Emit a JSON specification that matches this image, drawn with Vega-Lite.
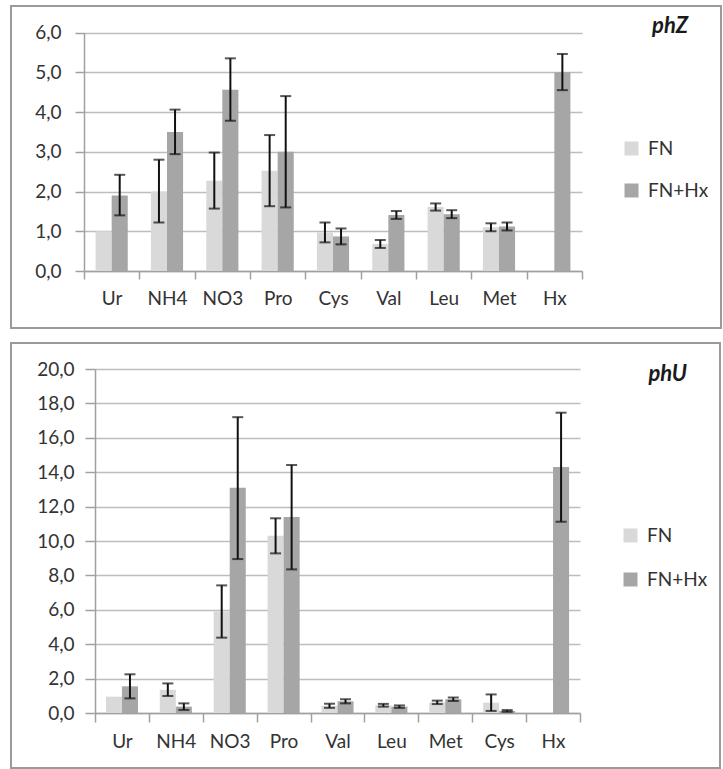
{
  "$schema": "https://vega.github.io/schema/vega-lite/v6.json",
  "padding": {"left": 10, "top": 5, "right": 0, "bottom": 0},
  "background": "white",
  "spacing": 15,
  "bounds": "flush",
  "datasets": {
    "phZ": [
      {"cat": "Ur", "series": "FN", "v": 1.0, "lo": null, "hi": null},
      {"cat": "Ur", "series": "FN+Hx", "v": 1.9, "lo": 1.40, "hi": 2.42},
      {"cat": "NH4", "series": "FN", "v": 2.0, "lo": 1.22, "hi": 2.80},
      {"cat": "NH4", "series": "FN+Hx", "v": 3.5, "lo": 2.94, "hi": 4.06},
      {"cat": "NO3", "series": "FN", "v": 2.27, "lo": 1.57, "hi": 2.98},
      {"cat": "NO3", "series": "FN+Hx", "v": 4.56, "lo": 3.78, "hi": 5.35},
      {"cat": "Pro", "series": "FN", "v": 2.52, "lo": 1.63, "hi": 3.42},
      {"cat": "Pro", "series": "FN+Hx", "v": 3.0, "lo": 1.60, "hi": 4.40},
      {"cat": "Cys", "series": "FN", "v": 0.97, "lo": 0.72, "hi": 1.22},
      {"cat": "Cys", "series": "FN+Hx", "v": 0.87, "lo": 0.67, "hi": 1.07},
      {"cat": "Val", "series": "FN", "v": 0.68, "lo": 0.58, "hi": 0.78},
      {"cat": "Val", "series": "FN+Hx", "v": 1.41, "lo": 1.31, "hi": 1.51},
      {"cat": "Leu", "series": "FN", "v": 1.61, "lo": 1.52, "hi": 1.70},
      {"cat": "Leu", "series": "FN+Hx", "v": 1.43, "lo": 1.33, "hi": 1.53},
      {"cat": "Met", "series": "FN", "v": 1.10, "lo": 1.00, "hi": 1.20},
      {"cat": "Met", "series": "FN+Hx", "v": 1.12, "lo": 1.02, "hi": 1.22},
      {"cat": "Hx", "series": "FN+Hx", "v": 5.0, "lo": 4.55, "hi": 5.46}
    ],
    "phU": [
      {"cat": "Ur", "series": "FN", "v": 0.95, "lo": null, "hi": null},
      {"cat": "Ur", "series": "FN+Hx", "v": 1.55, "lo": 0.85, "hi": 2.25},
      {"cat": "NH4", "series": "FN", "v": 1.35, "lo": 0.99, "hi": 1.72},
      {"cat": "NH4", "series": "FN+Hx", "v": 0.37, "lo": 0.18, "hi": 0.56},
      {"cat": "NO3", "series": "FN", "v": 5.9, "lo": 4.38, "hi": 7.42},
      {"cat": "NO3", "series": "FN+Hx", "v": 13.1, "lo": 8.95, "hi": 17.2},
      {"cat": "Pro", "series": "FN", "v": 10.3, "lo": 9.28, "hi": 11.32},
      {"cat": "Pro", "series": "FN+Hx", "v": 11.4, "lo": 8.35, "hi": 14.42},
      {"cat": "Val", "series": "FN", "v": 0.42, "lo": 0.30, "hi": 0.54},
      {"cat": "Val", "series": "FN+Hx", "v": 0.68, "lo": 0.56, "hi": 0.80},
      {"cat": "Leu", "series": "FN", "v": 0.45, "lo": 0.37, "hi": 0.53},
      {"cat": "Leu", "series": "FN+Hx", "v": 0.37, "lo": 0.30, "hi": 0.44},
      {"cat": "Met", "series": "FN", "v": 0.62, "lo": 0.52, "hi": 0.72},
      {"cat": "Met", "series": "FN+Hx", "v": 0.80, "lo": 0.70, "hi": 0.90},
      {"cat": "Cys", "series": "FN", "v": 0.6, "lo": 0.12, "hi": 1.08},
      {"cat": "Cys", "series": "FN+Hx", "v": 0.12, "lo": 0.07, "hi": 0.17},
      {"cat": "Hx", "series": "FN+Hx", "v": 14.3, "lo": 11.12, "hi": 17.46}
    ]
  },
  "vconcat": [
    {
      "data": {"name": "phZ"},
      "width": 710,
      "height": 322,
      "title": {"text": "phZ", "anchor": "end", "frame": "group", "orient": "top", "offset": 0, "dx": -33, "dy": 42, "baseline": "middle", "fontSize": 22, "fontStyle": "italic", "fontWeight": "bold", "font": "Lato", "color": "#1a1a1a"},
      "encoding": {
        "x": {
          "field": "cat", "type": "nominal",
          "sort": ["Ur", "NH4", "NO3", "Pro", "Cys", "Val", "Leu", "Met", "Hx"],
          "scale": {"range": [73, 571], "paddingInner": 0, "paddingOuter": 0},
          "axis": {"title": null, "offset": -57, "tickBand": "extent", "tickSize": 8, "labelPadding": 10, "labelAngle": 0, "grid": false}
        },
        "xOffset": {"field": "series", "type": "nominal", "scale": {"paddingOuter": 0.72, "paddingInner": 0}}
      },
      "layer": [
        {
          "mark": {"type": "bar"},
          "encoding": {
            "y": {
              "field": "v", "type": "quantitative", "title": null,
              "scale": {"domain": [0, 6], "range": [265, 26.5], "nice": false},
              "axis": {"values": [0, 1, 2, 3, 4, 5, 6], "offset": -73, "tickSize": 9, "labelPadding": 14, "grid": true, "labelExpr": "replace(format(datum.value, '.1f'), '.', ',')"}
            },
            "color": {
              "field": "series", "type": "nominal",
              "scale": {"domain": ["FN", "FN+Hx"], "range": ["#d9d9d9", "#a6a6a6"]},
              "legend": {"orient": "none", "legendX": 611, "legendY": 133, "title": null, "rowPadding": 22}
            }
          }
        },
        {
          "transform": [{"filter": "isValid(datum.lo)"}],
          "mark": {"type": "rule", "color": "#111111", "strokeWidth": 2},
          "encoding": {"y": {"field": "lo", "type": "quantitative", "title": null}, "y2": {"field": "hi"}}
        },
        {
          "transform": [{"filter": "isValid(datum.lo)"}],
          "mark": {"type": "tick", "color": "#111111", "thickness": 2, "size": 11},
          "encoding": {"y": {"field": "lo", "type": "quantitative", "title": null}}
        },
        {
          "transform": [{"filter": "isValid(datum.hi)"}],
          "mark": {"type": "tick", "color": "#111111", "thickness": 2, "size": 11},
          "encoding": {"y": {"field": "hi", "type": "quantitative", "title": null}}
        }
      ]
    },
    {
      "data": {"name": "phU"},
      "width": 709,
      "height": 425,
      "title": {"text": "phU", "anchor": "end", "frame": "group", "orient": "top", "offset": 0, "dx": -33, "dy": 53, "baseline": "middle", "fontSize": 22, "fontStyle": "italic", "fontWeight": "bold", "font": "Lato", "color": "#1a1a1a"},
      "encoding": {
        "x": {
          "field": "cat", "type": "nominal",
          "sort": ["Ur", "NH4", "NO3", "Pro", "Val", "Leu", "Met", "Cys", "Hx"],
          "scale": {"range": [84, 569], "paddingInner": 0, "paddingOuter": 0},
          "axis": {"title": null, "offset": -55, "tickBand": "extent", "tickSize": 9, "labelPadding": 10, "labelAngle": 0, "grid": false}
        },
        "xOffset": {"field": "series", "type": "nominal", "scale": {"paddingOuter": 0.68, "paddingInner": 0}}
      },
      "layer": [
        {
          "mark": {"type": "bar"},
          "encoding": {
            "y": {
              "field": "v", "type": "quantitative", "title": null,
              "scale": {"domain": [0, 20], "range": [370, 26], "nice": false},
              "axis": {"values": [0, 2, 4, 6, 8, 10, 12, 14, 16, 18, 20], "offset": -84, "tickSize": 10, "labelPadding": 11, "grid": true, "labelExpr": "replace(format(datum.value, '.1f'), '.', ',')"}
            },
            "color": {
              "field": "series", "type": "nominal",
              "scale": {"domain": ["FN", "FN+Hx"], "range": ["#d9d9d9", "#a6a6a6"]},
              "legend": {"orient": "none", "legendX": 610, "legendY": 183, "title": null, "rowPadding": 24}
            }
          }
        },
        {
          "transform": [{"filter": "isValid(datum.lo)"}],
          "mark": {"type": "rule", "color": "#111111", "strokeWidth": 2},
          "encoding": {"y": {"field": "lo", "type": "quantitative", "title": null}, "y2": {"field": "hi"}}
        },
        {
          "transform": [{"filter": "isValid(datum.lo)"}],
          "mark": {"type": "tick", "color": "#111111", "thickness": 2, "size": 11},
          "encoding": {"y": {"field": "lo", "type": "quantitative", "title": null}}
        },
        {
          "transform": [{"filter": "isValid(datum.hi)"}],
          "mark": {"type": "tick", "color": "#111111", "thickness": 2, "size": 11},
          "encoding": {"y": {"field": "hi", "type": "quantitative", "title": null}}
        }
      ]
    }
  ],
  "resolve": {
    "scale": {"x": "independent", "y": "independent", "xOffset": "independent", "color": "independent"},
    "legend": {"color": "independent"}
  },
  "config": {
    "view": {"stroke": "#9a9a9a", "strokeWidth": 2, "fill": "white"},
    "axis": {
      "labelFont": "Lato", "labelFontSize": 19, "labelColor": "#333333",
      "domainColor": "#a0a0a0", "domainWidth": 1.5,
      "tickColor": "#a0a0a0", "tickWidth": 1.5,
      "gridColor": "#bdbdbd", "gridWidth": 1.5
    },
    "legend": {
      "labelFont": "Lato", "labelFontSize": 19, "labelColor": "#333333",
      "symbolType": "square", "symbolSize": 196, "symbolStrokeWidth": 0,
      "labelOffset": 7, "padding": 0
    }
  }
}
